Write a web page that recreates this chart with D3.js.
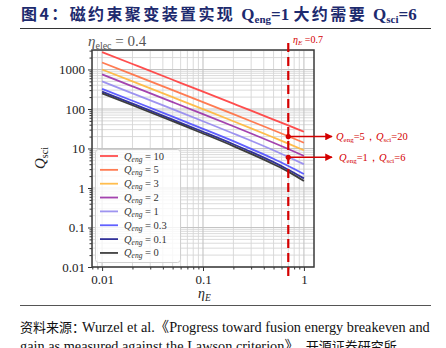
<!DOCTYPE html>
<html><head><meta charset="utf-8">
<script src="https://cdn.jsdelivr.net/npm/d3@7"></script>
<style>
html,body{margin:0;padding:0;background:#fff;}
svg{display:block;}
</style></head>
<body>
<svg id="c" width="446" height="348"></svg>
<script>
// ---- data ----
const etaE = [0.01, 0.02, 0.05, 0.1, 0.2, 0.3, 0.5, 0.7, 1];
const qEngLabels = ["10", "5", "3", "2", "1", "0.3", "0.1", "0"];
const qsci_10  = [2749, 1374, 549, 274, 136.5, 90.7, 54, 38.3, 26.5];
const qsci_5   = [1499, 749, 299, 149, 74, 49, 29, 20.4, 14];
const qsci_3   = [999, 499, 199, 99, 49, 32.3, 19, 13.3, 9];
const qsci_2   = [749, 374, 149, 74, 36.5, 24, 14, 9.7, 6.5];
const qsci_1   = [499, 249, 99, 49, 24, 15.7, 9, 6.1, 4];
const qsci_03  = [324, 161.5, 64, 31.5, 15.3, 9.8, 5.5, 3.6, 2.25];
const qsci_01  = [274, 136.5, 54, 26.5, 12.8, 8.2, 4.5, 2.9, 1.75];
const qsci_0   = [249, 124, 49, 24, 11.5, 7.3, 4, 2.6, 1.5];
const seriesColors = ["#ff3b3b", "#ff6e40", "#ffb63a", "#9a2fa6", "#9488ee", "#4f4fff", "#1c1c8e", "#2a2a2a"];
const yTickValues = [0.01, 0.1, 1, 10, 100, 1000];
const yTickLabels = ["0.01", "0.1", "1", "10", "100", "1000"];
const xTickValues = [0.01, 0.1, 1];
const xTickLabels = ["0.01", "0.1", "1"];
const markerEta = 0.7;
const markerPoints = [{qeng: "5", qsci: "20", v: 20}, {qeng: "1", qsci: "6", v: 6}];

const seriesValues = [qsci_10, qsci_5, qsci_3, qsci_2, qsci_1, qsci_03, qsci_01, qsci_0];
const series = qEngLabels.map((l, i) => ({label: l, color: seriesColors[i],
  pts: etaE.map((e, j) => ({x: e, y: seriesValues[i][j]}))}));

const svg = d3.select("#c");
const serif = "'Liberation Serif','Times New Roman',serif";
const L = 92, R = 314, T = 50, B = 267;
const x = d3.scaleLog().domain([Math.pow(10, -2.1), Math.pow(10, 0.1)]).range([L, R]);
const y = d3.scaleLog().domain([0.01, 3110]).range([B, T]);

// ---- title ----
const title = svg.append("text").attr("x", 21).attr("y", 20)
  .attr("font-family", "'Liberation Serif','Noto Sans CJK SC',serif")
  .attr("font-weight", "bold").attr("font-size", 16).attr("fill", "#1d2a6e");
title.append("tspan").attr("font-family", "'Noto Sans CJK SC'").attr("letter-spacing", 2.4).text("图4：磁约束聚变装置实现 ");
title.append("tspan").attr("font-size", 17).text("Q");
title.append("tspan").attr("font-size", 11).attr("dy", 3).text("eng");
title.append("tspan").attr("font-size", 17).attr("dy", -3).text("=1 ");
title.append("tspan").attr("font-family", "'Noto Sans CJK SC'").attr("letter-spacing", 2.4).text("大约需要 ");
title.append("tspan").attr("font-size", 17).text("Q");
title.append("tspan").attr("font-size", 11).attr("dy", 3).text("sci");
title.append("tspan").attr("font-size", 17).attr("dy", -3).text("=6");
svg.append("line").attr("x1", 20).attr("x2", 431).attr("y1", 28.5).attr("y2", 28.5)
  .attr("stroke", "#333").attr("stroke-width", 1);

// ---- grid ----
const minorVals = (lo, hi) => { const out = []; for (let d = lo; d < hi; d++) for (let k = 2; k <= 9; k++) out.push(k * Math.pow(10, d)); return out; };
const yMinor = minorVals(-2, 4).filter(v => v < 3110);
const xMinor = minorVals(-3, 1).filter(v => v > x.domain()[0] && v < x.domain()[1]);
const g = svg.append("g");
g.selectAll(".ym").data(yMinor).join("line").attr("x1", L).attr("x2", R)
  .attr("y1", d => y(d)).attr("y2", d => y(d)).attr("stroke", "#d6d6d6").attr("stroke-width", 0.9);
g.selectAll(".xm").data(xMinor).join("line").attr("y1", T).attr("y2", B)
  .attr("x1", d => x(d)).attr("x2", d => x(d)).attr("stroke", "#d6d6d6").attr("stroke-width", 0.9);
g.selectAll(".yM").data(yTickValues).join("line").attr("x1", L).attr("x2", R)
  .attr("y1", d => y(d)).attr("y2", d => y(d)).attr("stroke", "#c4c4c4").attr("stroke-width", 1.1);
g.selectAll(".xM").data(xTickValues).join("line").attr("y1", T).attr("y2", B)
  .attr("x1", d => x(d)).attr("x2", d => x(d)).attr("stroke", "#c4c4c4").attr("stroke-width", 1.1);

// ---- lines ----
const line = d3.line().x(d => x(d.x)).y(d => y(d.y)).curve(d3.curveMonotoneX);
svg.append("g").selectAll("path").data(series).join("path")
  .attr("d", d => line(d.pts)).attr("fill", "none").attr("stroke", d => d.color)
  .attr("stroke-width", 1.8).attr("stroke-opacity", 0.9);

// ---- axes ----
const axY = svg.append("g").attr("transform", `translate(${L},0)`)
  .call(d3.axisLeft(y).tickValues(yTickValues).tickFormat((d, i) => yTickLabels[i]).tickSize(4).tickPadding(3));
const axYm = svg.append("g").attr("transform", `translate(${L},0)`)
  .call(d3.axisLeft(y).tickValues(yMinor).tickFormat("").tickSize(2.5));
const axX = svg.append("g").attr("transform", `translate(0,${B})`)
  .call(d3.axisBottom(x).tickValues(xTickValues).tickFormat((d, i) => xTickLabels[i]).tickSize(4).tickPadding(4));
const axXm = svg.append("g").attr("transform", `translate(0,${B})`)
  .call(d3.axisBottom(x).tickValues(xMinor).tickFormat("").tickSize(2.5));
[axY, axYm, axX, axXm].forEach(a => {
  a.select(".domain").remove();
  a.selectAll(".tick line").attr("stroke", "#333").attr("stroke-width", 1);
  a.selectAll("text").attr("font-family", serif).attr("font-size", 13).attr("fill", "#222");
});
svg.append("rect").attr("x", L).attr("y", T).attr("width", R - L).attr("height", B - T)
  .attr("fill", "none").attr("stroke", "#3a3a3a").attr("stroke-width", 1.5);

// axis labels
const yl = svg.append("text").attr("transform", "translate(45,158) rotate(-90)")
  .attr("text-anchor", "middle").attr("font-family", serif).attr("font-size", 15).attr("fill", "#222");
yl.append("tspan").attr("font-style", "italic").text("Q");
yl.append("tspan").attr("font-size", 10).attr("dy", 3).text("sci");
const xl = svg.append("text").attr("x", 198).attr("y", 298)
  .attr("font-family", serif).attr("font-size", 14).attr("fill", "#222");
xl.append("tspan").attr("font-style", "italic").text("η");
xl.append("tspan").attr("font-style", "italic").attr("font-size", 9.5).attr("dy", 3).text("E");

const tt = svg.append("text").attr("x", 88).attr("y", 46)
  .attr("font-family", serif).attr("font-size", 15).attr("fill", "#555");
tt.append("tspan").attr("font-style", "italic").text("η");
tt.append("tspan").attr("font-size", 10).attr("dy", 3).text("elec");
tt.append("tspan").attr("dy", -3).text(" = 0.4");

// ---- legend ----
const lg = svg.append("g");
lg.append("rect").attr("x", 95.5).attr("y", 149.5).attr("width", 85).attr("height", 113).attr("rx", 3)
  .attr("fill", "#fff").attr("fill-opacity", 0.8).attr("stroke", "#d0d0d0");
series.forEach((s, i) => {
  const yy = 156 + i * 13.85;
  lg.append("line").attr("x1", 100).attr("x2", 118).attr("y1", yy).attr("y2", yy)
    .attr("stroke", s.color).attr("stroke-width", 1.8).attr("stroke-opacity", 0.9);
  const t = lg.append("text").attr("x", 124).attr("y", yy + 3.5)
    .attr("font-family", serif).attr("font-size", 10.5).attr("fill", "#333");
  t.append("tspan").attr("font-style", "italic").text("Q");
  t.append("tspan").attr("font-style", "italic").attr("font-size", 7.5).attr("dy", 2).text("eng");
  t.append("tspan").attr("dy", -2).text(" = " + s.label);
});

// ---- annotations ----
const red = "#d40000";
const xm = x(markerEta);
svg.append("line").attr("x1", xm).attr("x2", xm).attr("y1", 43).attr("y2", 281)
  .attr("stroke", red).attr("stroke-width", 2.2).attr("stroke-dasharray", "9,5");
const et = svg.append("text").attr("x", 293).attr("y", 43).attr("font-family", serif)
  .attr("font-size", 10).attr("fill", red);
et.append("tspan").attr("font-style", "italic").text("η");
et.append("tspan").attr("font-style", "italic").attr("font-size", 7).attr("dy", 2).text("E");
et.append("tspan").attr("dy", -2).text(" =0.7");

svg.append("defs").append("marker").attr("id", "ah").attr("viewBox", "0 0 10 10")
  .attr("refX", 9).attr("refY", 5).attr("markerWidth", 5).attr("markerHeight", 5)
  .attr("orient", "auto").append("path").attr("d", "M0,0L10,5L0,10z").attr("fill", red);
markerPoints.forEach((p, i) => {
  const yy = y(p.v);
  svg.append("circle").attr("cx", xm).attr("cy", yy).attr("r", 2.6).attr("fill", red);
  svg.append("line").attr("x1", xm).attr("x2", 332).attr("y1", yy).attr("y2", yy)
    .attr("stroke", red).attr("stroke-width", 1.5).attr("marker-end", "url(#ah)");
  const t = svg.append("text").attr("x", i === 0 ? 336 : 339).attr("y", yy + 3.5)
    .attr("font-family", serif).attr("font-size", 10.5).attr("fill", red);
  t.append("tspan").attr("font-style", "italic").text("Q");
  t.append("tspan").attr("font-size", 7).attr("dy", 2).text("eng");
  t.append("tspan").attr("dy", -2).text("=" + p.qeng + "，");
  t.append("tspan").attr("font-style", "italic").text("Q");
  t.append("tspan").attr("font-size", 7).attr("dy", 2).text("sci");
  t.append("tspan").attr("dy", -2).text("=" + p.qsci);
});

// ---- footer ----
svg.append("line").attr("x1", 20).attr("x2", 431).attr("y1", 305.5).attr("y2", 305.5)
  .attr("stroke", "#555").attr("stroke-width", 1);
const f1 = svg.append("text").attr("x", 20).attr("y", 332).attr("font-family", "'Liberation Serif','Noto Sans CJK SC',serif")
  .attr("font-size", 14.3).attr("fill", "#111");
f1.append("tspan").attr("font-family", "'Noto Sans CJK SC'").attr("font-size", 13).text("资料来源：");
f1.append("tspan").attr("dx", -3).text("Wurzel et al.《Progress toward fusion energy breakeven and");
const f2 = svg.append("text").attr("x", 20).attr("y", 351).attr("font-family", "'Liberation Serif','Noto Sans CJK SC',serif")
  .attr("font-size", 14.3).attr("fill", "#111");
f2.append("tspan").text("gain as measured against the Lawson criterion》、");
f2.append("tspan").attr("font-family", "'Noto Sans CJK SC'").attr("font-size", 13).text("开源证券研究所");
</script>
</body></html>
